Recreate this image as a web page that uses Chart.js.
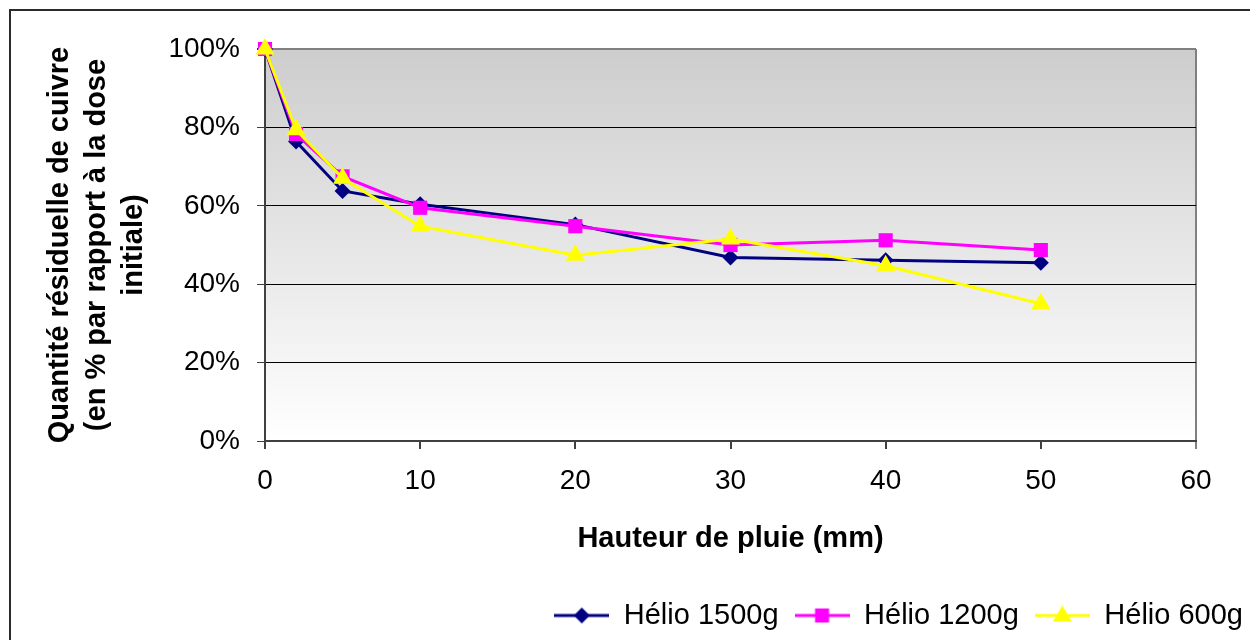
<!DOCTYPE html>
<html>
<head>
<meta charset="utf-8">
<script src="https://cdn.jsdelivr.net/npm/chart.js@4/dist/chart.umd.min.js"></script>
<style>
  html, body { margin: 0; padding: 0; background: #fff; }
  #wrap { width: 1250px; height: 640px; }
</style>
</head>
<body>
<div id="wrap"><canvas id="chart" width="1250" height="640"></canvas></div>
<script>
// Hauteur de pluie (mm) et quantité résiduelle (%)
const hauteurs = [0, 2, 5, 10, 20, 30, 40, 50];
const helio1500 = [100, 76.4, 63.8, 60.4, 55.2, 46.8, 46.1, 45.5];
const helio1200 = [100, 78.3, 67.5, 59.5, 54.8, 50.0, 51.2, 48.7];
const helio600 = [100, 79.4, 67.0, 54.8, 47.4, 51.5, 44.7, 35.0];

const series = ['Hélio 1500g', 'Hélio 1200g', 'Hélio 600g'];
const couleurs = ['#000080', '#FF00FF', '#FFFF00'];
const marqueurs = ['rectRot', 'rect', 'triangle'];
const tailles = [8, 10, 11];

const FONT = "Arial, 'Liberation Sans', sans-serif";

// petit trait + marqueur pour la légende
function iconeLegende(i) {
  const c = document.createElement('canvas');
  c.width = 55; c.height = 24;
  const g = c.getContext('2d');
  g.strokeStyle = couleurs[i]; g.lineWidth = 3;
  g.beginPath(); g.moveTo(0, 12); g.lineTo(55, 12); g.stroke();
  g.fillStyle = couleurs[i];
  g.beginPath();
  if (i === 0) { g.moveTo(27.5, 4); g.lineTo(35.5, 12); g.lineTo(27.5, 20); g.lineTo(19.5, 12); }
  else if (i === 1) { g.rect(20.5, 5, 14, 14); }
  else { g.moveTo(27.5, 2); g.lineTo(37, 18); g.lineTo(18, 18); }
  g.closePath(); g.fill();
  return c;
}
const icones = series.map((_, i) => iconeLegende(i));

// fond dégradé de la zone de tracé + cadre extérieur
const fondPlugin = {
  id: 'fond',
  beforeDraw(chart) {
    const { ctx, chartArea: a } = chart;
    ctx.save();
    ctx.fillStyle = '#fff';
    ctx.fillRect(0, 0, chart.width, chart.height);
    ctx.strokeStyle = '#2b2b2b'; ctx.lineWidth = 2;
    ctx.strokeRect(10, 10, chart.width + 20, chart.height + 20);
    const grad = ctx.createLinearGradient(0, a.top, 0, a.bottom);
    grad.addColorStop(0, '#CDCDCD');
    grad.addColorStop(1, '#FFFFFF');
    ctx.fillStyle = grad;
    ctx.fillRect(a.left, a.top, a.right - a.left, a.bottom - a.top);
    ctx.restore();
  }
};

const datasets = series.map((nom, i) => ({
  label: nom,
  data: hauteurs.map((h, k) => ({ x: h, y: [helio1500, helio1200, helio600][i][k] })),
  borderColor: couleurs[i],
  backgroundColor: couleurs[i],
  borderWidth: 3,
  pointStyle: marqueurs[i],
  pointRadius: tailles[i],
  pointHoverRadius: tailles[i],
  pointBorderWidth: 0,
  tension: 0,
  clip: false,
  order: 3 - i,
}));

new Chart(document.getElementById('chart'), {
  type: 'line',
  data: { datasets },
  plugins: [fondPlugin],
  options: {
    responsive: false,
    animation: false,
    layout: { padding: { left: 0, top: 49, right: -9, bottom: 0 } },
    scales: {
      x: {
        type: 'linear', min: 0, max: 60,
        afterFit: s => { s.height = 144; },
        ticks: { stepSize: 10, color: '#000', padding: 15, font: { family: FONT, size: 28 } },
        grid: {
          color: c => c.tick && c.tick.value === 60 ? '#808080' : 'rgba(0,0,0,0)',
          lineWidth: 2,
          tickColor: c => c.tick && c.tick.value === 60 ? '#808080' : '#404040',
          tickLength: 8,
        },
        border: { color: '#404040', width: 2 },
        title: {
          display: true, text: 'Hauteur de pluie (mm)', color: '#000',
          font: { family: FONT, size: 29, weight: 'bold' }, padding: { top: 0, bottom: 29 },
        },
      },
      y: {
        min: 0, max: 100,
        afterFit: s => { s.width = 265; },
        ticks: { stepSize: 20, color: '#000', padding: 17, callback: v => v + '%', font: { family: FONT, size: 28 } },
        grid: {
          color: c => c.tick.value === 100 ? '#808080' : (c.tick.value === 0 ? 'rgba(0,0,0,0)' : '#000'),
          lineWidth: c => c.tick.value === 100 ? 2 : 1,
          tickColor: '#404040',
          tickLength: 8,
        },
        border: { color: '#404040', width: 2 },
        title: {
          display: true,
          text: ['Quantité résiduelle de cuivre', '(en % par rapport à la dose', 'initiale)'],
          color: '#000',
          font: { family: FONT, size: 29, weight: 'bold', lineHeight: 1.27 },
          padding: { top: 42, bottom: 0 },
        },
      },
      y2: {
        position: 'right',
        afterFit: s => { s.width = 63; },
        ticks: { display: false },
        grid: { display: false },
        border: { display: false },
      },
    },
    plugins: {
      legend: {
        position: 'bottom',
        align: 'end',
        labels: {
          usePointStyle: true,
          pointStyleWidth: 55,
          padding: 16,
          color: '#000',
          font: { family: FONT, size: 29 },
          sort: (a, b) => a.datasetIndex - b.datasetIndex,
          generateLabels: chart => chart.data.datasets.map((d, i) => ({
            text: d.label, datasetIndex: i, pointStyle: icones[i],
            fillStyle: d.backgroundColor, strokeStyle: d.borderColor, lineWidth: 0, hidden: false,
          })),
        },
      },
      tooltip: { enabled: false },
    },
  },
});
</script>
</body>
</html>
